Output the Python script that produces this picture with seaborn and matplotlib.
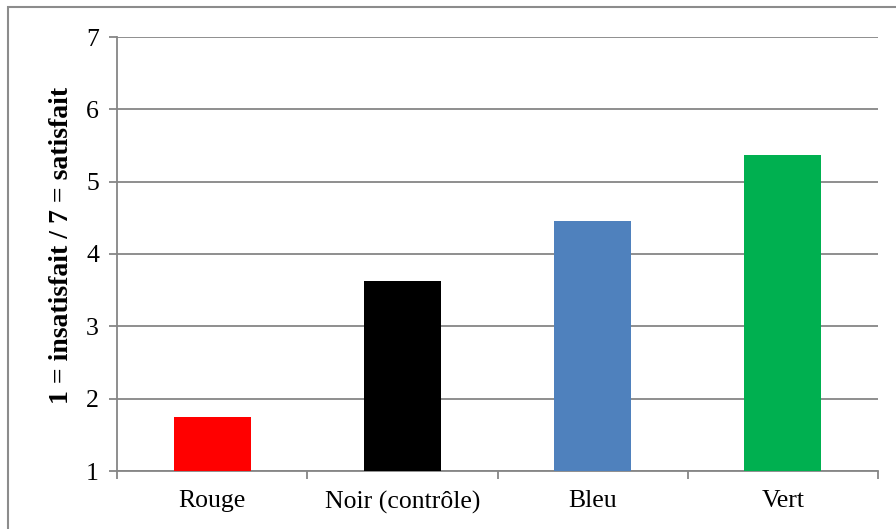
import matplotlib
matplotlib.use("Agg")
import matplotlib.pyplot as plt
import seaborn as sns
import pandas as pd
from matplotlib.patches import Rectangle

# data
categories = ["Rouge", "Noir (contrôle)", "Bleu", "Vert"]
scores = [1.75, 3.62, 4.45, 5.37]
colors = ["#FF0000", "#000000", "#4F81BD", "#00B050"]

df = pd.DataFrame({"groupe": categories, "score": scores})

sns.set_style("white")
plt.rcParams["font.family"] = ["Liberation Serif", "DejaVu Serif"]
plt.rcParams["text.color"] = "black"
plt.rcParams["axes.labelcolor"] = "black"
plt.rcParams["xtick.color"] = "black"
plt.rcParams["ytick.color"] = "black"

fig = plt.figure(figsize=(8.96, 5.29), dpi=100)
ax = fig.add_axes([117 / 896, 1 - 471 / 529, (878 - 117) / 896, (471 - 37) / 529])

sns.barplot(data=df, x="groupe", y="score", hue="groupe", palette=colors,
            width=0.405, legend=False, ax=ax, zorder=3, saturation=1, linewidth=0)

grid_c = "#868686"
ax.set_ylim(1, 7)
ax.set_xlim(-0.5, len(categories) - 0.5)
ax.set_yticks(range(1, 8))
ax.yaxis.grid(True, color=grid_c, linewidth=1.3, zorder=0)
ax.set_axisbelow(True)

# category boundary ticks, like Excel
ax.set_xticks([i - 0.5 for i in range(len(categories) + 1)], minor=True)
ax.tick_params(axis="x", which="major", bottom=False, length=0, pad=14,
               labelsize=18.5, labelcolor="black")
ax.tick_params(axis="x", which="minor", bottom=True, length=6, color=grid_c, width=1.3)
ax.tick_params(axis="y", left=True, length=6, color=grid_c, width=1.3,
               labelsize=18.5, labelcolor="black", pad=7)

for s in ["top", "right"]:
    ax.spines[s].set_visible(False)
for s in ["left", "bottom"]:
    ax.spines[s].set_color(grid_c)
    ax.spines[s].set_linewidth(1.3)

ax.set_xlabel("")
ax.set_ylabel("1 = insatisfait / 7 = satisfait", fontsize=20, fontweight="bold", color="black")
ax.yaxis.set_label_coords(-0.056, 0.52)

# chart frame (only top/left visible in the crop)
fig.patches.append(Rectangle((8 / 896, -0.1), 1.2, 1 - 7 / 529 + 0.1, transform=fig.transFigure,
                             fill=False, edgecolor="#8c8c8c", linewidth=1.5))

fig.savefig("out.png", dpi=100)
